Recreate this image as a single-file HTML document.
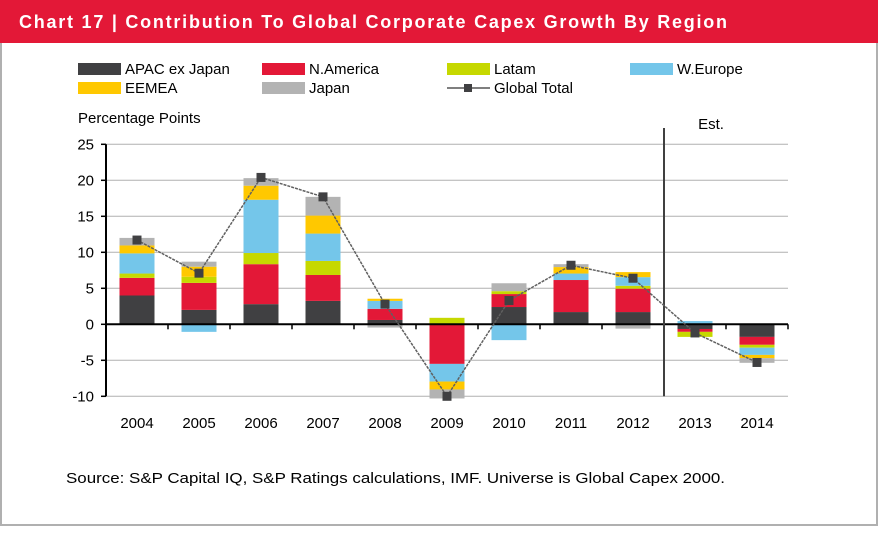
<!DOCTYPE html>
<html><head><meta charset="utf-8"><style>
body{margin:0;background:#fff;}
svg text{font-family:"Liberation Sans",sans-serif;}
</style></head><body>
<svg width="879" height="528" viewBox="0 0 879 528" xmlns="http://www.w3.org/2000/svg">
<rect x="1" y="0" width="876" height="525" fill="#fff" stroke="#b0b0b0" stroke-width="2"/>
<rect x="0" y="0" width="878" height="43" fill="#e31837"/>
<text x="19" y="28" fill="#fff" font-size="18" font-weight="bold" textLength="708" lengthAdjust="spacing">Chart 17  |  Contribution To Global Corporate Capex Growth By Region</text>
<g id="legend"></g>
<text x="78" y="123" font-size="15">Percentage Points</text>
<text x="711" y="129" font-size="15" text-anchor="middle">Est.</text>
<g id="grid"></g><g id="bars"></g><g id="axes"></g><g id="line"></g>
<text x="66" y="483" font-size="15" textLength="659" lengthAdjust="spacingAndGlyphs">Source: S&amp;P Capital IQ, S&amp;P Ratings calculations, IMF. Universe is Global Capex 2000.</text>
</svg>
<script>
const categories=["2004","2005","2006","2007","2008","2009","2010","2011","2012","2013","2014"];
const seriesNames=["APAC ex Japan","N.America","Latam","W.Europe","EEMEA","Japan"];
const apac=[4.0,2.0,2.8,3.25,0.6,0,2.4,1.7,1.7,-0.65,-1.75];
const namerica=[2.45,3.75,5.55,3.6,1.55,-5.5,1.8,4.45,3.25,-0.4,-1.1];
const latam=[0.6,0.85,1.55,1.95,0,0.9,0.4,0,0.4,-0.7,-0.4];
const weurope=[2.8,-1.05,7.4,3.8,1.1,-2.45,-2.2,0.9,1.2,0.45,-1.0];
const eemea=[1.1,1.4,1.95,2.5,0.3,-1.1,0,0.9,0.7,0,-0.45];
const japan=[1.05,0.7,1.05,2.6,-0.45,-1.25,1.1,0.4,-0.6,0,-0.65];
const globalTotal=[11.7,7.1,20.4,17.7,2.8,-10.0,3.3,8.2,6.4,-1.2,-5.3];
const yTicks=[25,20,15,10,5,0,-5,-10];
const colors=["#404042","#e31837","#c6d800","#74c6ea","#ffc800","#b3b3b3"];
const series=[apac,namerica,latam,weurope,eemea,japan];
const NS="http://www.w3.org/2000/svg";
const X0=106,X1=788,Y0=324.3,PX=7.2;
const step=(X1-X0)/categories.length;
function y(v){return Y0-v*PX;}
function xc(i){return X0+step*(i+0.5);}
function mk(tag,attrs,parent){const e=document.createElementNS(NS,tag);for(const k in attrs)e.setAttribute(k,attrs[k]);document.getElementById(parent)?document.getElementById(parent).appendChild(e):parent.appendChild(e);return e;}
const lg=document.getElementById('legend');
const lpos=[[78,63],[262,63],[447,63],[630,63],[78,82],[262,82]];
const order=[0,1,2,3,4,5];
order.forEach((s,k)=>{const [lx,ly]=lpos[k];
 const r=mk('rect',{x:lx,y:ly,width:43,height:12,fill:colors[s]},lg);
 
 
 const t=mk('text',{x:lx+47,y:ly+11,'font-size':15},lg);t.textContent=seriesNames[s];
 
 });
{const l=mk('line',{x1:447,y1:88,x2:490,y2:88,stroke:'#555','stroke-width':1.5},lg);
 
 
 const m=mk('rect',{x:464,y:84,width:8,height:8,fill:'#404042'},lg);
 
 
 const t=mk('text',{x:494,y:93,'font-size':15},lg);t.textContent="Global Total";
 
 }
yTicks.forEach(v=>{
 if(v!==0){const g=mk('line',{x1:X0,x2:X1,y1:y(v),y2:y(v),stroke:'#b0b0b0','stroke-width':1},'grid');
 
 }
 const tk=mk('line',{x1:X0-5,x2:X0,y1:y(v),y2:y(v),stroke:'#000','stroke-width':1.5},'axes');
 
 
 const t=mk('text',{x:94,y:y(v)+5,'font-size':15,'text-anchor':'end'},'axes');t.textContent=v;
 
 });
const bw=35;
categories.forEach((c,i)=>{let pos=0,neg=0;
 series.forEach((sv,s)=>{const v=sv[i];if(!v)return;let top,bot;
  if(v>0){bot=pos;pos+=v;top=pos;}else{top=neg;neg+=v;bot=neg;}
  const r=mk('rect',{x:xc(i)-bw/2,y:y(top),width:bw,height:y(bot)-y(top),fill:colors[s]},'bars');
  
  });
 const t=mk('text',{x:xc(i),y:428,'font-size':15,'text-anchor':'middle'},'axes');t.textContent=c;
 
 
 const tk=mk('line',{x1:X0+step*(i+1),x2:X0+step*(i+1),y1:Y0,y2:Y0+5,stroke:'#000','stroke-width':1.5},'axes');
 
 });
{const a=mk('line',{x1:X0,x2:X0,y1:y(25),y2:y(-10),stroke:'#000','stroke-width':2},'axes');
 
 
 const z=mk('line',{x1:X0,x2:X1,y1:Y0,y2:Y0,stroke:'#000','stroke-width':2},'axes');
 
 
 const dv=X0+step*9;
 const d=mk('line',{x1:dv,x2:dv,y1:128,y2:y(-10),stroke:'#404040','stroke-width':2},'axes');
 
 }
const pts=globalTotal.map((v,i)=>xc(i)+','+y(v)).join(' ');
const pl=mk('polyline',{points:pts,fill:'none',stroke:'#606060','stroke-width':1.5,'stroke-dasharray':'3 1'},'line');


globalTotal.forEach((v,i)=>{const m=mk('rect',{x:xc(i)-4.5,y:y(v)-4.5,width:9,height:9,fill:'#404042'},'line');
 
 });
</script>
</body></html>
